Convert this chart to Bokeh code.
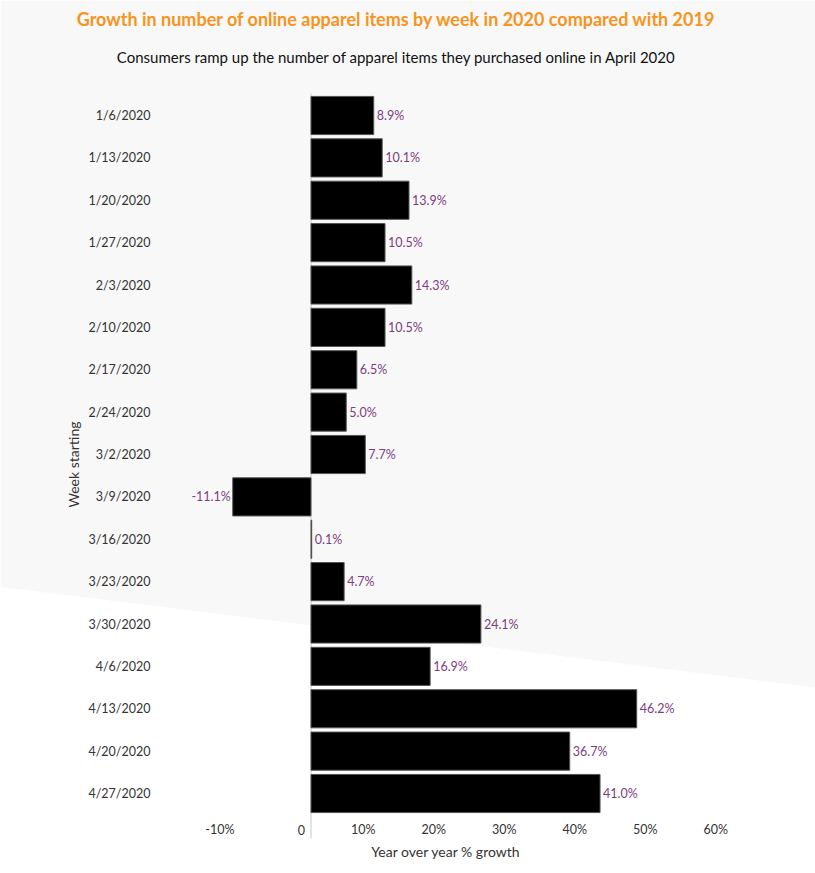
import math
from bokeh.plotting import figure
from bokeh.models import ColumnDataSource, Range1d
from bokeh.core.properties import value
from bokeh.embed import file_html
from bokeh.resources import INLINE

# ---------------- data ----------------
weeks = ["1/6/2020", "1/13/2020", "1/20/2020", "1/27/2020", "2/3/2020", "2/10/2020",
         "2/17/2020", "2/24/2020", "3/2/2020", "3/9/2020", "3/16/2020", "3/23/2020",
         "3/30/2020", "4/6/2020", "4/13/2020", "4/20/2020", "4/27/2020"]
growth = [8.9, 10.1, 13.9, 10.5, 14.3, 10.5, 6.5, 5.0, 7.7, -11.1, 0.1, 4.7,
          24.1, 16.9, 46.2, 36.7, 41.0]
x_ticks = [-10, 0, 10, 20, 30, 40, 50, 60]
x_tick_labels = ["-10%", "0", "10%", "20%", "30%", "40%", "50%", "60%"]
title_text = "Growth in number of online apparel items by week in 2020 compared with 2019"
subtitle_text = "Consumers ramp up the number of apparel items they purchased online in April 2020"
y_axis_title = "Week starting"
x_axis_title = "Year over year % growth"

# ---------------- layout (pixel coordinates) ----------------
W, H = 815, 873
ZERO_X = 310.5        # pixel position of 0 %
PX_PER_PCT = 7.05
ROW0_Y = 115.0        # pixel centre of first row
ROW_PX = 42.375


def fx(px):
    return (px - ZERO_X) / PX_PER_PCT


def fy(py):
    return (py - ROW0_Y) / ROW_PX


FONT = "Lato"
PURPLE = "#7e3b82"
ORANGE = "#f7941d"
BG = "#f8f8f8"
TXT = "#333333"

p = figure(width=W, height=H,
           x_range=Range1d(fx(0), fx(W)),
           y_range=Range1d(fy(H), fy(0)),
           output_backend="svg", toolbar_location=None,
           x_axis_location=None, y_axis_location=None,
           min_border=0)
p.outline_line_color = None
p.background_fill_color = "white"
p.border_fill_color = "white"
p.xgrid.visible = False
p.ygrid.visible = False

# diagonal light-grey background
p.patch(x=[fx(0), fx(W), fx(W), fx(0)],
        y=[fy(0), fy(0), fy(687), fy(586.5)],
        fill_color=BG, line_color=None)

# zero line
p.segment(x0=[0], y0=[fy(93)], x1=[0], y1=[fy(838)], line_color="#c8c8c8", line_width=1)

idx = list(range(len(weeks)))
src = ColumnDataSource(dict(
    y=idx, v=growth, week=weeks,
    lbl=[f"{g:.1f}%" for g in growth],
    align=["left" if g >= 0 else "right" for g in growth],
    off=[3 if g >= 0 else -2 for g in growth],
))

p.hbar(y="y", left=0, right="v", height=0.9, source=src,
       fill_color="black", line_color="#555555", line_width=1)

# value labels
p.text(x="v", y="y", text="lbl", source=src, text_align="align", x_offset="off",
       text_baseline="middle", text_font=value(FONT), text_font_size="12.5px",
       text_color=PURPLE)

# category labels
p.text(x=fx(150), y="y", text="week", source=src, text_align="right",
       text_baseline="middle", text_font=value(FONT), text_font_size="12.5px",
       text_color=TXT)

# x tick labels (right-aligned at tick, as in reference)
tick_row = fy(829)
p.text(x=x_ticks, y=[tick_row] * len(x_ticks), text=x_tick_labels,
       text_align="right", text_baseline="middle", x_offset=-6,
       text_font=value(FONT), text_font_size="12.5px", text_color=TXT)

# axis titles
p.text(x=[fx(445.5)], y=[fy(851)], text=[x_axis_title], text_align="center",
       text_baseline="middle", text_font=value(FONT), text_font_size="14px",
       text_color=TXT)
p.text(x=[fx(72.5)], y=[fy(464)], text=[y_axis_title], text_align="center",
       text_baseline="middle", angle=math.pi / 2, text_font=value(FONT),
       text_font_size="14px", text_color=TXT)

# title and subtitle
p.text(x=[fx(396)], y=[fy(18.5)], text=[title_text], text_align="center",
       text_baseline="middle", text_font=value(FONT), text_font_size="18px",
       text_font_style="bold", text_color=ORANGE)
p.text(x=[fx(396)], y=[fy(56)], text=[subtitle_text], text_align="center",
       text_baseline="middle", text_font=value(FONT), text_font_size="15px",
       text_color="#111111")

open("out.html", "w").write(file_html(p, INLINE))
